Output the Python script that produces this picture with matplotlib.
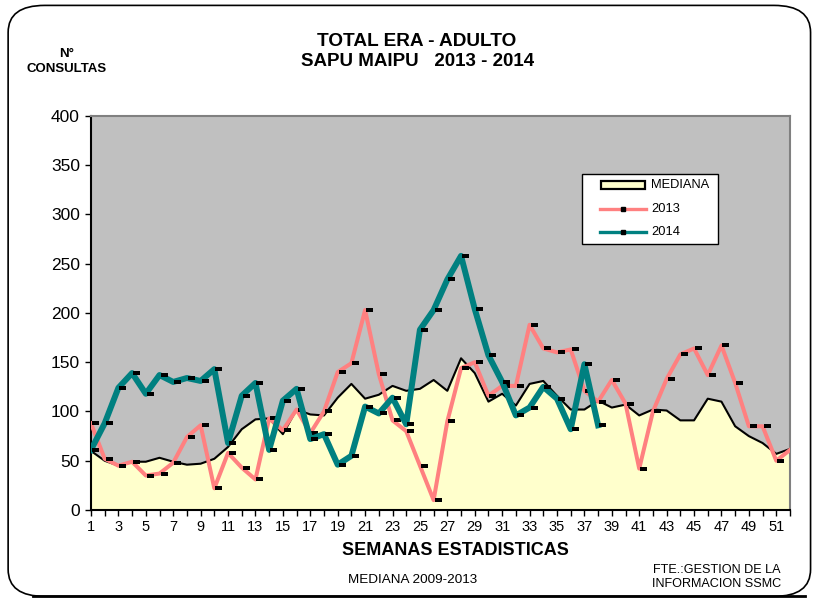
import matplotlib
matplotlib.use("Agg")
import matplotlib.pyplot as plt
from matplotlib.patches import FancyBboxPatch, Rectangle
from matplotlib.lines import Line2D
from matplotlib.path import Path

plt.rcParams['font.family'] = ['Liberation Sans', 'DejaVu Sans']

weeks = list(range(1, 53))
mediana = [60, 50, 45, 49, 49, 53, 49, 46, 47, 52,
           64, 82, 92, 93, 77, 102, 97, 96, 114, 128,
           113, 117, 126, 121, 123, 132, 121, 154, 139, 110,
           118, 106, 128, 131, 116, 102, 102, 111, 104, 107,
           96, 102, 101, 91, 91, 113, 110, 85, 75, 68,
           57, 62]
serie_2013 = [88, 52, 45, 49, 35, 37, 48, 74, 86, 22,
              58, 43, 31, 93, 81, 102, 78, 100, 140, 149,
              203, 138, 91, 80, 45, 10, 90, 144, 150, 116,
              126, 126, 188, 164, 160, 163, 121, 110, 132, 108,
              42, 100, 133, 158, 164, 137, 167, 129, 85, 85,
              50, 61]
serie_2014 = [61, 88, 124, 139, 118, 137, 130, 134, 131, 143,
              68, 116, 129, 61, 111, 123, 72, 77, 46, 55,
              105, 98, 114, 87, 183, 203, 234, 258, 204, 157,
              130, 96, 104, 125, 113, 82, 148, 86]
yticks = list(range(0, 401, 50))
legend_labels = ['MEDIANA', '2013', '2014']

COL_MED = '#FFFFCC'
COL_2013 = '#FF8080'
COL_2014 = '#008080'

# small dash marker drawn just to the right of each point
dash = Path([(1, -2), (8, -2), (8, 2), (1, 2), (1, -2)],
            [Path.MOVETO, Path.LINETO, Path.LINETO, Path.LINETO, Path.CLOSEPOLY])

W, H = 813, 600
fig = plt.figure(figsize=(W / 100, H / 100), dpi=100)


def fx(px):
    return px / W


def fy(py):
    return (H - py) / H


# rounded outer frame
frame = FancyBboxPatch((0.010, 0.006), 0.987, 0.985,
                       boxstyle="round,pad=0,rounding_size=0.045",
                       transform=fig.transFigure, facecolor='none',
                       edgecolor='black', linewidth=1.2, zorder=-1)
fig.patches.append(frame)
# heavier bottom edge of the frame
fig.add_artist(Line2D([0.04, 0.99], [0.0075, 0.0075], transform=fig.transFigure,
                      color='black', lw=2.0))

ax = fig.add_axes([0.1119, 0.15, 0.8598, 0.6567])
ax.set_facecolor('#C0C0C0')

ax.fill_between(weeks, 0, mediana, color=COL_MED, zorder=1)
ax.plot(weeks, mediana, color='black', lw=1.5, zorder=2)
ax.plot(weeks, serie_2013, color=COL_2013, lw=2.9, zorder=3,
        marker=dash, ms=11.5, mfc='black', mec='black', mew=0)
ax.plot(weeks[:len(serie_2014)], serie_2014, color=COL_2014, lw=4.3, zorder=4,
        marker=dash, ms=11.5, mfc='black', mec='black', mew=0)

ax.set_xlim(1, 52)
ax.set_ylim(0, 400)
ax.set_yticks(yticks)
ax.set_yticklabels([str(v) for v in yticks], fontsize=12.5)
ax.set_xticks(weeks)
ax.set_xticklabels([str(w) if w % 2 == 1 else '' for w in weeks], fontsize=10.5)
ax.tick_params(axis='both', direction='out', length=4, width=1, color='black')
ax.tick_params(axis='x', pad=3)
ax.tick_params(axis='y', pad=4)

for side in ('left', 'bottom'):
    ax.spines[side].set_color('black')
    ax.spines[side].set_linewidth(1.5)
for side in ('top', 'right'):
    ax.spines[side].set_color('#808080')
    ax.spines[side].set_linewidth(1.5)

# legend box
fig.add_artist(Rectangle((fx(582), fy(244)), fx(718) - fx(582), fy(174) - fy(244),
                         transform=fig.transFigure, facecolor='white',
                         edgecolor='black', lw=1.0, zorder=5))
rows = [185, 209, 232]
fig.add_artist(Rectangle((fx(601), fy(rows[0] + 4)), fx(645) - fx(601), fy(rows[0] - 4) - fy(rows[0] + 4),
                         transform=fig.transFigure, facecolor=COL_MED,
                         edgecolor='black', lw=1.6, zorder=6))
for yrow, col in zip(rows[1:], [COL_2013, COL_2014]):
    fig.add_artist(Line2D([fx(600), fx(646)], [fy(yrow), fy(yrow)],
                          transform=fig.transFigure, color=col, lw=2.4, zorder=6))
    fig.add_artist(Line2D([fx(623)], [fy(yrow)], transform=fig.transFigure,
                          marker='s', ms=2.6, mfc='black', mec='black', lw=0, zorder=7))
for yrow, lab in zip(rows, legend_labels):
    fig.text(fx(651), fy(yrow), lab, ha='left', va='center', fontsize=9.3, zorder=7)

fig.text(0.513, 0.931, 'TOTAL ERA - ADULTO', ha='center', va='center',
         fontsize=13.7, fontweight='bold')
fig.text(0.513, 0.898, 'SAPU MAIPU   2013 - 2014', ha='center', va='center',
         fontsize=13.5, fontweight='bold')
fig.text(0.082, 0.910, 'N°', ha='center', va='center',
         fontsize=9.5, fontweight='bold')
fig.text(0.082, 0.885, 'CONSULTAS', ha='center', va='center',
         fontsize=9.5, fontweight='bold')

fig.text(0.560, 0.082, 'SEMANAS ESTADISTICAS', ha='center', va='center',
         fontsize=13, fontweight='bold')
fig.text(0.507, 0.033, 'MEDIANA 2009-2013', ha='center', va='center',
         fontsize=9.7)
fig.text(0.882, 0.050, 'FTE.:GESTION DE LA', ha='center', va='center',
         fontsize=9.1)
fig.text(0.882, 0.027, 'INFORMACION SSMC', ha='center', va='center',
         fontsize=9.1)

fig.savefig('out.png', dpi=100)
